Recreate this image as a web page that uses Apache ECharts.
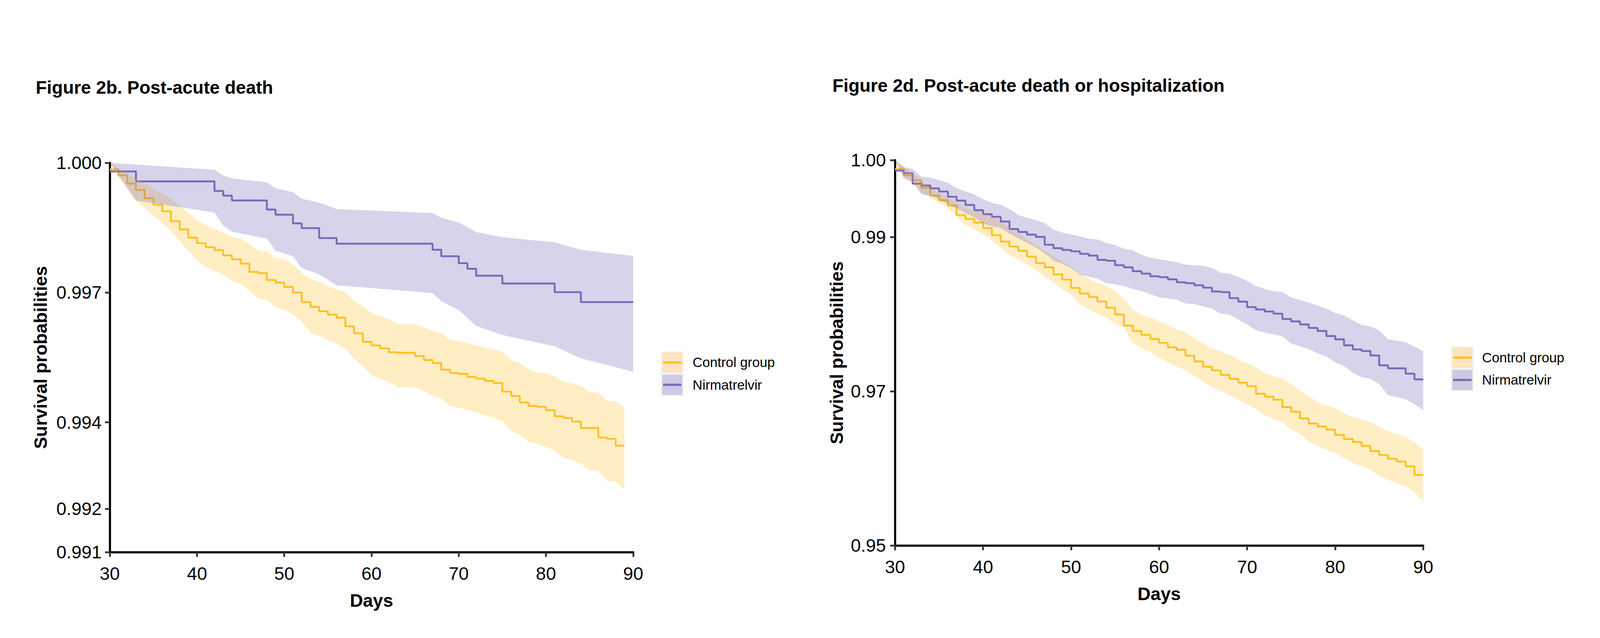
<!DOCTYPE html>
<html>
<head>
<meta charset="utf-8">
<script src="https://cdn.jsdelivr.net/npm/echarts@6/dist/echarts.min.js"></script>
<style>
html,body{margin:0;padding:0;background:#fff;overflow:hidden;}
#chart{width:100vw;height:100vh;}
</style>
</head>
<body>
<div id="chart"></div>
<script>
// ---------- Figure 2b: post-acute death ----------
const deathControl = [[30,0.99985],[31,0.99971],[32,0.99952],[33,0.99937],[34,0.99918],[35,0.99903],[36,0.99888],[37,0.99865],[38,0.99846],[39,0.99827],[40,0.99814],[41,0.99805],[42,0.99798],[43,0.99786],[44,0.99777],[45,0.99767],[46,0.99748],[47,0.99745],[48,0.99729],[49,0.99723],[50,0.99713],[51,0.99700],[52,0.99678],[53,0.99667],[54,0.99657],[55,0.99649],[56,0.99642],[57,0.99622],[58,0.99606],[59,0.99586],[60,0.99578],[61,0.99571],[62,0.99562],[63,0.99561],[65,0.99553],[66,0.99544],[67,0.99537],[68,0.99522],[69,0.99514],[70,0.99512],[71,0.99505],[72,0.99501],[73,0.99496],[74,0.99491],[75,0.99471],[76,0.99461],[77,0.99446],[78,0.99438],[79,0.99436],[80,0.99428],[81,0.99414],[82,0.99410],[83,0.99402],[84,0.99387],[86,0.99365],[87,0.99362],[88,0.99346],[89,0.99346]];
const deathControlUpper = [[30,1.0],[37,0.99917],[40,0.99867],[41,0.99856],[43,0.99839],[44,0.99828],[45,0.99825],[46,0.99813],[47,0.99797],[48,0.99795],[49,0.99780],[50,0.99777],[51,0.99764],[52,0.99746],[53,0.99732],[54,0.99725],[55,0.99714],[56,0.99707],[57,0.99701],[58,0.99681],[59,0.99669],[60,0.99652],[62,0.99638],[63,0.99628],[65,0.99627],[67,0.99611],[68,0.99606],[69,0.99591],[71,0.99583],[73,0.99573],[75,0.99564],[76,0.99545],[77,0.99537],[78,0.99524],[79,0.99515],[80,0.99514],[81,0.99506],[82,0.99493],[83,0.99490],[84,0.99484],[85,0.99470],[86,0.99469],[87,0.99450],[88,0.99448],[89,0.99434]];
const deathControlLower = [[30,1.0],[31,0.99966],[33,0.99912],[35,0.99879],[37,0.99843],[38,0.99819],[40,0.99774],[41,0.99760],[43,0.99741],[44,0.99727],[45,0.99720],[46,0.99705],[47,0.99686],[48,0.99683],[49,0.99667],[50,0.99660],[51,0.99649],[52,0.99633],[53,0.99607],[54,0.99600],[55,0.99590],[56,0.99581],[57,0.99570],[58,0.99548],[59,0.99530],[60,0.99509],[62,0.99493],[63,0.99481],[65,0.99481],[67,0.99462],[68,0.99455],[69,0.99438],[71,0.99429],[72,0.99423],[73,0.99417],[75,0.99403],[76,0.99380],[77,0.99371],[78,0.99355],[80,0.99344],[81,0.99334],[82,0.99318],[83,0.99313],[84,0.99305],[85,0.99289],[86,0.99288],[87,0.99265],[88,0.99263],[89,0.99244]];
const deathNirma = [[30,0.99980],[33,0.99957],[42,0.99935],[43,0.99924],[44,0.99913],[48,0.99892],[49,0.99880],[51,0.99860],[52,0.99849],[54,0.99826],[56,0.99813],[67,0.99799],[68,0.99784],[70,0.99768],[71,0.99755],[72,0.99739],[75,0.99721],[81,0.99701],[84,0.99678],[90,0.99678]];
const deathNirmaUpper = [[30,1.0],[42,0.99984],[43,0.99971],[44,0.99964],[48,0.99955],[49,0.99941],[51,0.99932],[52,0.99917],[54,0.99908],[56,0.99893],[67,0.99884],[68,0.99873],[70,0.99862],[72,0.99840],[75,0.99828],[81,0.99816],[84,0.99799],[90,0.99785]];
const deathNirmaLower = [[30,1.0],[33,0.99913],[42,0.99885],[43,0.99855],[44,0.99841],[48,0.99825],[49,0.99797],[51,0.99784],[52,0.99757],[54,0.99742],[56,0.99717],[67,0.99699],[68,0.99680],[70,0.99660],[72,0.99623],[75,0.99602],[81,0.99576],[84,0.99548],[90,0.99517]];
const deathTicks = [0.991, 0.992, 0.994, 0.997, 1.000];

// ---------- Figure 2d: post-acute death or hospitalization ----------
const hospControl = [[30,0.99886],[31,0.99802],[32,0.99739],[33,0.99642],[34,0.99540],[35,0.99479],[36,0.99411],[37,0.99286],[38,0.99237],[39,0.99189],[40,0.99117],[41,0.99026],[42,0.98943],[43,0.98879],[44,0.98823],[45,0.98748],[46,0.98664],[47,0.98608],[48,0.98517],[49,0.98449],[50,0.98341],[51,0.98268],[52,0.98223],[53,0.98166],[54,0.98085],[55,0.97996],[56,0.97853],[57,0.97783],[58,0.97733],[59,0.97678],[60,0.97628],[61,0.97570],[62,0.97539],[63,0.97461],[64,0.97388],[65,0.97318],[66,0.97271],[67,0.97213],[68,0.97163],[69,0.97112],[70,0.97066],[71,0.96969],[72,0.96930],[73,0.96891],[74,0.96795],[75,0.96736],[76,0.96647],[77,0.96581],[78,0.96543],[79,0.96504],[80,0.96434],[81,0.96380],[82,0.96341],[83,0.96291],[84,0.96225],[85,0.96174],[86,0.96124],[87,0.96089],[88,0.96027],[89,0.95915],[90,0.95915]];
const hospControlUpper = [[30,1.0],[32,0.99830],[34,0.99637],[36,0.99510],[38,0.99380],[41,0.99275],[43,0.99120],[45,0.98970],[47,0.98823],[50.25,0.98596],[51,0.98527],[52,0.98460],[53.7,0.98381],[55,0.98295],[56,0.98200],[57,0.98054],[58,0.97996],[59,0.97957],[60,0.97907],[61,0.97860],[62,0.97802],[63,0.97764],[64,0.97686],[65,0.97620],[66,0.97550],[67,0.97519],[68,0.97473],[69,0.97415],[70,0.97364],[71,0.97310],[72,0.97233],[73,0.97194],[74,0.97171],[75,0.97093],[76,0.97008],[77,0.96930],[78,0.96860],[79,0.96814],[80,0.96783],[81,0.96717],[82,0.96667],[83,0.96640],[84,0.96601],[85,0.96535],[86,0.96484],[87,0.96446],[88,0.96407],[89,0.96341],[90,0.96240]];
const hospControlLower = [[30,1.0],[31,0.99790],[32,0.99710],[33,0.99580],[34,0.99510],[35,0.99445],[36,0.99377],[38,0.99162],[39,0.99105],[40,0.99038],[41,0.98958],[43,0.98766],[44,0.98710],[45,0.98642],[46,0.98574],[47,0.98483],[48,0.98415],[49,0.98325],[50,0.98257],[51,0.98132],[52,0.98064],[53,0.98008],[54,0.97957],[55,0.97880],[56,0.97830],[57,0.97630],[58,0.97560],[59,0.97512],[60,0.97434],[61,0.97376],[62,0.97318],[63,0.97279],[64,0.97202],[65,0.97124],[66,0.97054],[67,0.97008],[68,0.96950],[69,0.96891],[70,0.96833],[71,0.96775],[72,0.96690],[73,0.96640],[74,0.96601],[75,0.96504],[76,0.96446],[77,0.96349],[78,0.96291],[79,0.96244],[80,0.96202],[81,0.96136],[82,0.96070],[83,0.96031],[84,0.95981],[85,0.95903],[86,0.95853],[87,0.95806],[88,0.95767],[89,0.95690],[90,0.95574]];
const hospNirma = [[30,0.99864],[31,0.99830],[32,0.99694],[33,0.99671],[34,0.99633],[35,0.99592],[36,0.99524],[37,0.99474],[38,0.99418],[39,0.99350],[40,0.99298],[41,0.99264],[42,0.99203],[43,0.99105],[44,0.99067],[45,0.99033],[46,0.99004],[47,0.98902],[48,0.98857],[49,0.98834],[50,0.98816],[51,0.98784],[52,0.98761],[53,0.98705],[54,0.98694],[55,0.98636],[56,0.98609],[57,0.98558],[58,0.98527],[59,0.98492],[60,0.98481],[61,0.98453],[62,0.98415],[63,0.98403],[64,0.98376],[65,0.98345],[66,0.98295],[67,0.98287],[68,0.98209],[69,0.98163],[70,0.98093],[71,0.98062],[72,0.98035],[73,0.98008],[74,0.97938],[75,0.97907],[76,0.97868],[77,0.97822],[78,0.97783],[79,0.97717],[80,0.97674],[81,0.97597],[82,0.97543],[83,0.97523],[84,0.97465],[85,0.97337],[86,0.97298],[88,0.97229],[89,0.97155],[90,0.97155]];
const hospNirmaUpper = [[30,1.0],[31,0.99909],[32,0.99886],[33,0.99784],[34,0.99773],[36,0.99705],[37,0.99637],[38.9,0.99558],[40,0.99490],[41,0.99445],[42,0.99422],[43,0.99365],[44,0.99286],[45,0.99252],[46,0.99218],[47,0.99184],[48,0.99094],[49,0.99060],[50,0.99038],[51,0.99010],[52,0.98981],[53,0.98970],[54,0.98926],[55,0.98899],[56,0.98849],[57,0.98829],[58,0.98771],[59,0.98733],[60,0.98713],[62,0.98674],[63,0.98643],[65,0.98628],[66,0.98597],[67,0.98539],[68,0.98527],[69,0.98481],[70,0.98434],[71,0.98364],[73,0.98298],[74,0.98287],[75,0.98217],[77,0.98151],[79,0.98074],[80,0.98016],[81,0.97984],[82,0.97919],[83,0.97860],[84,0.97841],[85,0.97791],[86,0.97674],[87,0.97659],[88,0.97636],[89,0.97578],[90,0.97519]];
const hospNirmaLower = [[30,1.0],[31,0.99762],[32,0.99716],[33,0.99554],[34,0.99540],[35,0.99488],[36,0.99430],[37,0.99372],[38,0.99314],[39,0.99256],[40,0.99178],[41,0.99140],[42,0.99120],[43,0.99043],[44,0.98984],[45,0.98926],[46,0.98868],[47,0.98791],[48,0.98694],[49,0.98655],[50,0.98597],[51,0.98512],[52,0.98488],[53,0.98461],[54,0.98403],[55,0.98390],[56,0.98365],[57,0.98330],[58,0.98300],[60,0.98221],[62,0.98190],[63,0.98140],[64,0.98132],[66,0.98074],[67,0.98008],[68,0.97996],[69,0.97930],[70,0.97868],[71,0.97791],[72,0.97764],[74,0.97713],[75,0.97620],[77,0.97550],[78,0.97492],[79,0.97453],[80,0.97376],[81,0.97326],[82,0.97240],[83,0.97182],[84,0.97163],[85,0.97093],[86,0.96950],[88,0.96899],[89,0.96833],[90,0.96756]];
const hospTicks = [0.95, 0.97, 0.99, 1.00];

const groupNames = ['Control group', 'Nirmatrelvir'];
const titles = ['Figure 2b. Post-acute death', 'Figure 2d. Post-acute death or hospitalization'];
const xAxisName = 'Days';
const yAxisName = 'Survival probabilities';

// ---------- styles ----------
const FONT = '"Liberation Sans", Arial, Helvetica, sans-serif';
const COL_CTRL = '#FFC125';
const COL_NIRMA = '#7569B8';
const BAND_CTRL = 'rgba(255,193,37,0.27)';
const BAND_NIRMA = 'rgba(117,105,184,0.29)';
const KEY_CTRL = '#FCE4BF';
const KEY_NIRMA = '#CFCAE3';
const REF_W = 5304, REF_H = 1634;

function bandRender(upper, lower, fill) {
  return function (params, api) {
    const pts = upper.map(p => api.coord(p)).concat(lower.slice().reverse().map(p => api.coord(p)));
    return { type: 'polygon', shape: { points: pts }, style: { fill: fill } };
  };
}

function buildOption(W, H) {
  const sx = W / REF_W, sy = H / REF_H, f = Math.min(sx, sy);
  const fs = 60 * f;

  function xAxisCfg(gi) {
    return {
      type: 'value', gridIndex: gi, min: 30, max: 90, interval: 10,
      name: xAxisName, nameLocation: 'middle', nameGap: 121 * sy - 26 * f,
      nameTextStyle: { fontFamily: FONT, fontSize: fs, fontWeight: 'bold', color: '#000' },
      axisLine: { show: true, onZero: false, lineStyle: { color: '#000', width: 7 * f } },
      axisTick: { show: true, length: 16 * f, lineStyle: { color: '#333', width: 6 * f } },
      axisLabel: { fontFamily: FONT, fontSize: fs, color: '#000', margin: 49 * sy - 22 * f },
      splitLine: { show: false }
    };
  }
  function yAxisCfg(gi, ticks, digits, nameOffset, labelMargin) {
    return {
      type: 'value', gridIndex: gi, min: ticks[0], max: ticks[ticks.length - 1],
      name: yAxisName, nameLocation: 'middle', nameGap: nameOffset * sx - 30 * f,
      nameTextStyle: { fontFamily: FONT, fontSize: fs, fontWeight: 'bold', color: '#000' },
      axisLine: { show: true, onZero: false, lineStyle: { color: '#000', width: 7 * f } },
      axisTick: { show: true, length: 16 * f, customValues: ticks, lineStyle: { color: '#333', width: 6 * f } },
      axisLabel: { fontFamily: FONT, fontSize: fs, color: '#000', margin: labelMargin * sx, customValues: ticks,
        formatter: v => Number(v).toFixed(digits) },
      splitLine: { show: false }
    };
  }
  function lineSeries(data, color, i) {
    return { type: 'line', step: 'end', data: data, xAxisIndex: i, yAxisIndex: i,
      showSymbol: false, symbol: 'none', z: 2, silent: true,
      lineStyle: { color: color, width: 6 * f }, itemStyle: { color: color } };
  }
  function bandSeries(upper, lower, fill, i) {
    return { type: 'custom', xAxisIndex: i, yAxisIndex: i, z: 3, silent: true,
      renderItem: bandRender(upper, lower, fill), data: [[upper[0][0], upper[0][1]]] };
  }
  function legendGraphics(refX, refCenterY, textGap) {
    const x = refX * sx, cy = refCenterY * sy;
    const els = [{ type: 'rect', shape: { x: x, y: cy - 74 * f, width: 75 * f, height: 148 * f }, style: { fill: '#F2F2F2' } }];
    const fills = [KEY_CTRL, KEY_NIRMA], cols = [COL_CTRL, COL_NIRMA];
    for (let i = 0; i < 2; i++) {
      const c = cy + (i === 0 ? -37 : 37) * f;
      els.push({ type: 'rect', shape: { x: x + 4 * f, y: c - 33.5 * f, width: 67 * f, height: 67 * f }, style: { fill: fills[i] } });
      els.push({ type: 'line', shape: { x1: x + 7 * f, y1: c, x2: x + 68 * f, y2: c }, style: { stroke: cols[i], lineWidth: 7 * f } });
      els.push({ type: 'text', x: x + textGap * f, y: c, style: { text: groupNames[i], fontFamily: FONT, fontSize: 45 * f, fill: '#000', verticalAlign: 'middle', align: 'left' } });
    }
    return els;
  }

  return {
    animation: false,
    backgroundColor: '#fff',
    title: [
      { text: titles[0], left: 112 * sx, top: 220 * sy - 31 * f, textStyle: { fontFamily: FONT, fontSize: fs, fontWeight: 'bold', color: '#000' } },
      { text: titles[1], left: 2753 * sx, top: 215 * sy - 31 * f, textStyle: { fontFamily: FONT, fontSize: fs, fontWeight: 'bold', color: '#000' } }
    ],
    grid: [
      { left: 364 * sx, top: 417 * sy, width: 1735 * sx, height: 997 * sy },
      { left: 2967 * sx, top: 410 * sy, width: 1751 * sx, height: 987 * sy }
    ],
    xAxis: [xAxisCfg(0), xAxisCfg(1)],
    yAxis: [yAxisCfg(0, deathTicks, 3, 229, 27), yAxisCfg(1, hospTicks, 2, 194, 30)],
    series: [
      lineSeries(deathControl, COL_CTRL, 0),
      lineSeries(deathNirma, COL_NIRMA, 0),
      bandSeries(deathControlUpper, deathControlLower, BAND_CTRL, 0),
      bandSeries(deathNirmaUpper, deathNirmaLower, BAND_NIRMA, 0),
      lineSeries(hospControl, COL_CTRL, 1),
      lineSeries(hospNirma, COL_NIRMA, 1),
      bandSeries(hospControlUpper, hospControlLower, BAND_CTRL, 1),
      bandSeries(hospNirmaUpper, hospNirmaLower, BAND_NIRMA, 1)
    ],
    graphic: legendGraphics(2191, 957, 105).concat(legendGraphics(4810, 944.5, 103))
  };
}

const el = document.getElementById('chart');
const chart = echarts.init(el, null, { renderer: 'svg' });
function render() {
  const W = el.clientWidth || window.innerWidth, H = el.clientHeight || window.innerHeight;
  chart.resize();
  chart.setOption(buildOption(W, H), true);
}
render();
window.addEventListener('resize', render);
</script>
</body>
</html>
